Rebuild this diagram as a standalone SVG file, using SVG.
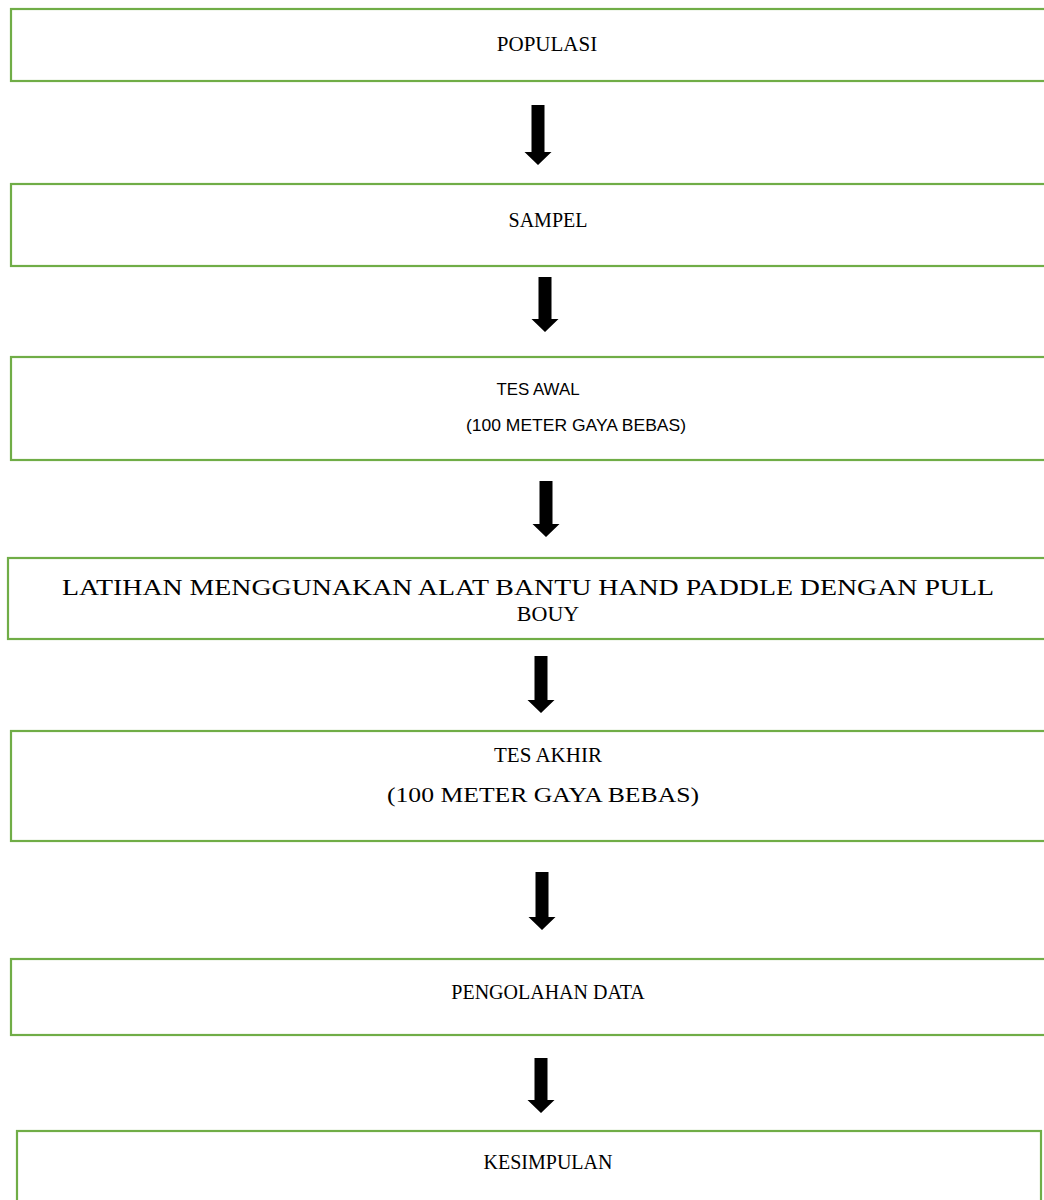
<svg xmlns="http://www.w3.org/2000/svg" width="1044" height="1200" viewBox="0 0 1044 1200">
<style>
.box{fill:#ffffff;stroke:#70AD47;stroke-width:2.2}
.serif{font-family:"Liberation Serif","Times New Roman",serif;fill:#000;text-anchor:middle}
.sans{font-family:"Liberation Sans",Arial,sans-serif;fill:#000;text-anchor:middle}
.arrow{fill:#000}
</style>
<rect width="1044" height="1200" fill="#ffffff"/>
<g id="node-populasi">
<rect class="box" x="11" y="9" width="1060" height="72"/>
<text class="serif" x="547" y="51" font-size="21">POPULASI</text>
</g>
<g id="node-sampel">
<rect class="box" x="11" y="184" width="1060" height="82"/>
<text class="serif" x="548" y="227" font-size="20">SAMPEL</text>
</g>
<g id="node-tes-awal">
<rect class="box" x="11" y="357" width="1060" height="103"/>
<text class="sans" x="538" y="395" font-size="17" textLength="83" lengthAdjust="spacingAndGlyphs">TES AWAL</text>
<text class="sans" x="576" y="431" font-size="17" textLength="220" lengthAdjust="spacingAndGlyphs">(100 METER GAYA BEBAS)</text>
</g>
<g id="node-latihan">
<rect class="box" x="8" y="558" width="1060" height="81"/>
<text class="serif" x="528" y="595" font-size="24" textLength="932" lengthAdjust="spacingAndGlyphs">LATIHAN MENGGUNAKAN ALAT BANTU HAND PADDLE DENGAN PULL</text>
<text class="serif" x="548" y="621" font-size="22">BOUY</text>
</g>
<g id="node-tes-akhir">
<rect class="box" x="11" y="731" width="1060" height="110"/>
<text class="serif" x="548" y="762" font-size="21">TES AKHIR</text>
<text class="serif" x="543" y="802" font-size="22" textLength="312" lengthAdjust="spacingAndGlyphs">(100 METER GAYA BEBAS)</text>
</g>
<g id="node-pengolahan">
<rect class="box" x="11" y="959" width="1060" height="76"/>
<text class="serif" x="548" y="999" font-size="20">PENGOLAHAN DATA</text>
</g>
<g id="node-kesimpulan">
<rect class="box" x="17" y="1131" width="1024" height="120"/>
<text class="serif" x="548" y="1169" font-size="20">KESIMPULAN</text>
</g>
<g id="connectors">
<path class="arrow" d="M531.5 105 H544.5 V152 H551.5 L538 165 L524.5 152 H531.5 Z"/>
<path class="arrow" d="M538.5 277 H551.5 V319 H558.5 L545 332 L531.5 319 H538.5 Z"/>
<path class="arrow" d="M539.5 481 H552.5 V524 H559.5 L546 537 L532.5 524 H539.5 Z"/>
<path class="arrow" d="M534.5 656 H547.5 V700 H554.5 L541 713 L527.5 700 H534.5 Z"/>
<path class="arrow" d="M535.5 872 H548.5 V917 H555.5 L542 930 L528.5 917 H535.5 Z"/>
<path class="arrow" d="M534.5 1058 H547.5 V1100 H554.5 L541 1113 L527.5 1100 H534.5 Z"/>
</g>
</svg>
